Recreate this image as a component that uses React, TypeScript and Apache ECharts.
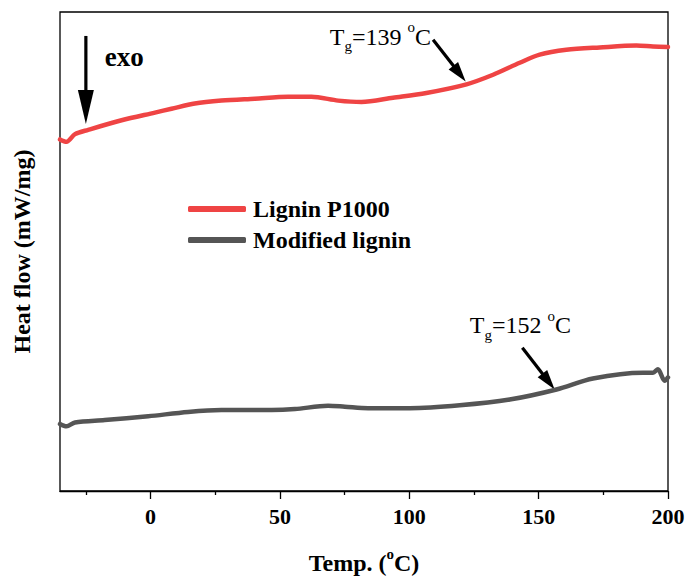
import React, { useEffect, useRef } from "react";
import * as echarts from "echarts";

const FONT = '"Liberation Serif", "Times New Roman", serif';

// Lignin P1000 (red)
const redTemp = [-35, -32.5, -29.2, -24.1, -11.2, 1.7, 8.1, 17.1, 27.4, 40.3, 53.2, 62.2, 72.5, 81.5, 93.7, 106.6, 122.1, 132.4, 142.7, 150.4, 160.7, 173.6, 187.8, 194.2, 200];
const redFlow = [73.4, 72.9, 74.5, 75.4, 77.4, 79.0, 79.8, 80.9, 81.5, 81.9, 82.3, 82.3, 81.5, 81.2, 82.1, 83.1, 84.9, 86.9, 89.4, 91.1, 92.1, 92.6, 93.0, 92.8, 92.7];

// Modified lignin (gray)
const grayTemp = [-35, -32.5, -29.2, -17.7, -0.9, 14.5, 27.4, 46.8, 55.8, 68.6, 75.1, 84.1, 100.2, 119.5, 138.8, 156.9, 171.0, 190.3, 194.2, 196.1, 198.7, 200];
const grayFlow = [14.0, 13.5, 14.3, 14.8, 15.6, 16.5, 16.9, 16.9, 17.1, 17.8, 17.6, 17.3, 17.3, 17.9, 19.1, 21.2, 23.5, 24.7, 24.7, 25.4, 23.0, 23.7];

const majorTicks = [0, 50, 100, 150, 200];
const minorTicks = [-25, 25, 75, 125, 175];

const seriesNames = ["Lignin P1000", "Modified lignin"];

// annotations (data coordinates)
const exoArrow = [[-25, 95.0], [-25, 76.6]];
const exoPos = [-17.7, 90.7];
const tg139Arrow = [[109.2, 94.2], [121.8, 85.5]];
const tg139Pos = [69.3, 94.8];
const tg139Value = "139";
const tg152Arrow = [[143.7, 29.9], [156.2, 21.2]];
const tg152Pos = [123.4, 34.6];
const tg152Value = "152";

const zip = (xs: number[], ys: number[]) => xs.map((x, i) => [x, ys[i]]);

function arrowGraphic(p1: number[], p2: number[], headLen: number, headW: number, lw: number) {
  const dx = p2[0] - p1[0];
  const dy = p2[1] - p1[1];
  const len = Math.sqrt(dx * dx + dy * dy);
  const ux = dx / len, uy = dy / len;
  const bx = p2[0] - ux * headLen, by = p2[1] - uy * headLen;
  const px = -uy, py = ux;
  return [
    {
      type: "line",
      shape: { x1: p1[0], y1: p1[1], x2: bx + ux * 2, y2: by + uy * 2 },
      style: { stroke: "#000", lineWidth: lw },
      silent: true,
    },
    {
      type: "polygon",
      shape: {
        points: [
          [p2[0], p2[1]],
          [bx + px * headW / 2, by + py * headW / 2],
          [bx - px * headW / 2, by - py * headW / 2],
        ],
      },
      style: { fill: "#000" },
      silent: true,
    },
  ];
}

const tgRich = {
  a: { fontSize: 24, fontFamily: FONT, color: "#000", lineHeight: 34 },
  b: { fontSize: 15, fontFamily: FONT, color: "#000", lineHeight: 15, verticalAlign: "bottom" },
  c: { fontSize: 15, fontFamily: FONT, color: "#000", lineHeight: 31, verticalAlign: "top" },
};

export default function App() {
  const ref = useRef<HTMLDivElement>(null);
  useEffect(() => {
    if (!ref.current) return;
    const chart = echarts.init(ref.current, undefined, { renderer: "svg" });
    const axisFont = { fontFamily: FONT, fontWeight: "bold" as const, color: "#000" };
    chart.setOption({
      animation: false,
      backgroundColor: "#fff",
      grid: {
        left: 60,
        right: 22,
        top: 12,
        bottom: 86,
        show: true,
        borderColor: "#000",
        borderWidth: 1.3,
        backgroundColor: "transparent",
      },
      legend: {
        orient: "vertical",
        left: 188,
        top: 197,
        padding: 0,
        itemWidth: 58,
        itemHeight: 6,
        itemGap: 7,
        icon: "roundRect",
        data: seriesNames,
        textStyle: { ...axisFont, fontSize: 24, lineHeight: 24, padding: [0, 0, 0, 2] },
      },
      xAxis: [
        {
          type: "value",
          min: -35,
          max: 200,
          position: "bottom",
          axisLine: { show: true, lineStyle: { color: "#000", width: 1.3 } },
          axisTick: { show: true, customValues: majorTicks, length: 8, lineStyle: { color: "#000", width: 1.3 } },
          axisLabel: { customValues: majorTicks, ...axisFont, fontSize: 22, margin: 14 },
          splitLine: { show: false },
          name: "{a|Temp. (}{c|o}{a|C)}",
          nameLocation: "middle",
          nameGap: 55,
          nameTextStyle: {
            rich: {
              a: { fontSize: 24, fontFamily: FONT, fontWeight: "bold", color: "#000", lineHeight: 34 },
              c: { fontSize: 15, fontFamily: FONT, fontWeight: "bold", color: "#000", lineHeight: 31, verticalAlign: "top" },
            },
          },
        },
        {
          type: "value",
          min: -35,
          max: 200,
          position: "bottom",
          offset: 0,
          axisLine: { show: false },
          axisTick: { show: true, customValues: minorTicks, length: 4, lineStyle: { color: "#000", width: 1.3 } },
          axisLabel: { show: false },
          splitLine: { show: false },
        },
      ],
      yAxis: {
        type: "value",
        min: 0,
        max: 100,
        axisLine: { show: false },
        axisTick: { show: false },
        axisLabel: { show: false },
        splitLine: { show: false },
        name: "Heat flow (mW/mg)",
        nameLocation: "middle",
        nameRotate: 90,
        nameGap: 26,
        nameTextStyle: { ...axisFont, fontSize: 24 },
      },
      series: [
        {
          name: seriesNames[0],
          type: "line",
          data: zip(redTemp, redFlow),
          showSymbol: false,
          symbol: "none",
          smooth: 0.3,
          lineStyle: { color: "#ef4444", width: 4.5, cap: "round", join: "round" },
          itemStyle: { color: "#ef4444" },
        },
        {
          name: seriesNames[1],
          type: "line",
          data: zip(grayTemp, grayFlow),
          showSymbol: false,
          symbol: "none",
          smooth: 0.3,
          lineStyle: { color: "#555555", width: 4.5, cap: "round", join: "round" },
          itemStyle: { color: "#555555" },
        },
      ],
    });

    const px = (p: number[]) => chart.convertToPixel({ gridIndex: 0 }, p) as number[];
    const graphics: any[] = [];
    graphics.push(...arrowGraphic(px(exoArrow[0]), px(exoArrow[1]), 34, 16, 3.2));
    graphics.push(...arrowGraphic(px(tg139Arrow[0]), px(tg139Arrow[1]), 20, 12, 3.2));
    graphics.push(...arrowGraphic(px(tg152Arrow[0]), px(tg152Arrow[1]), 20, 12, 3.2));
    const exoP = px(exoPos);
    graphics.push({
      type: "text",
      x: exoP[0],
      y: exoP[1],
      style: { text: "exo", fontSize: 27, fontWeight: "bold", fontFamily: FONT, fill: "#000", align: "left", verticalAlign: "middle" },
      silent: true,
    });
    const t1 = px(tg139Pos);
    graphics.push({
      type: "text",
      x: t1[0],
      y: t1[1],
      style: { text: `{a|T}{b|g}{a|=${tg139Value} }{c|o}{a|C}`, rich: tgRich, align: "left", verticalAlign: "middle" },
      silent: true,
    });
    const t2 = px(tg152Pos);
    graphics.push({
      type: "text",
      x: t2[0],
      y: t2[1],
      style: { text: `{a|T}{b|g}{a|=${tg152Value} }{c|o}{a|C}`, rich: tgRich, align: "left", verticalAlign: "middle" },
      silent: true,
    });
    chart.setOption({ graphic: graphics });

    return () => chart.dispose();
  }, []);
  return <div ref={ref} style={{ position: "fixed", left: 0, top: 0, width: 690, height: 580 }} />;
}
